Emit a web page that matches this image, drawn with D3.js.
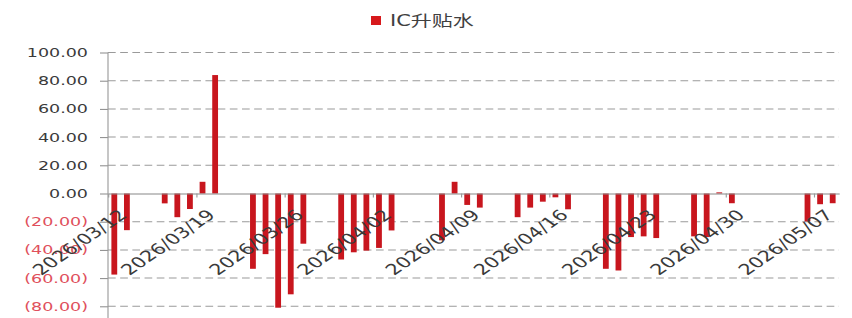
<!DOCTYPE html>
<html><head><meta charset="utf-8">
<script src="https://cdn.jsdelivr.net/npm/d3@7/dist/d3.min.js"></script>
<style>body{margin:0;background:#fff;overflow:hidden}</style>
</head><body><svg id="c"></svg>
<script>
const seriesName = "IC升贴水";
const dates = ["2026-03-12","2026-03-13","2026-03-16","2026-03-17","2026-03-18","2026-03-19","2026-03-20",
  "2026-03-23","2026-03-24","2026-03-25","2026-03-26","2026-03-27","2026-03-30","2026-03-31","2026-04-01",
  "2026-04-02","2026-04-03","2026-04-07","2026-04-08","2026-04-09","2026-04-10","2026-04-13","2026-04-14",
  "2026-04-15","2026-04-16","2026-04-17","2026-04-20","2026-04-21","2026-04-22","2026-04-23","2026-04-24",
  "2026-04-27","2026-04-28","2026-04-29","2026-04-30","2026-05-06","2026-05-07","2026-05-08"];
const values = [-57.5,-26,-7,-16.8,-11,8.3,84,-53.4,-43,-81,-71.5,-35.6,-46.8,-41.7,-40.5,
  -38.6,-26.2,-33.2,8.3,-8.1,-10,-16.8,-10,
  -5.8,-2.7,-11.2,-53.4,-54.6,-30.9,-30.4,-31.6,
  -30.4,-30.9,0.8,-6.9,-19.8,-7.6,-6.9];
const yTicks = [-80,-60,-40,-20,0,20,40,60,80,100];
const xTickDates = ["2026-03-12","2026-03-19","2026-03-26","2026-04-02","2026-04-09","2026-04-16","2026-04-23","2026-04-30","2026-05-07"];
const xDomain = ["2026-03-12","2026-05-09"];

const S = 1.4, W = 852, H = 318;
const svg = d3.select("#c").attr("width", W).attr("height", H)
  .attr("viewBox", `0 0 ${W/S} ${H}`).attr("preserveAspectRatio", "none");
const parse = d3.utcParse("%Y-%m-%d");
const x = d3.scaleUtc().domain(xDomain.map(parse)).range([108/S, 839/S]);
const y = d3.scaleLinear().domain([-80, 100]).range([306.3, 52.5]);
const x0 = x.range()[0], x1 = x.range()[1];
const font = "'DejaVu Sans', 'Noto Sans CJK SC', sans-serif";
const red = "#c8161e";

// grid
svg.append("g").selectAll("line").data(yTicks.filter(d => d !== 0)).join("line")
  .attr("x1", x0).attr("x2", x1).attr("y1", d => y(d)).attr("y2", d => y(d))
  .attr("stroke", "#9a9a9a").attr("stroke-width", 1).attr("stroke-dasharray", "5.5,3.2");

// y axis
const fmt = d => d < 0 ? `(${Math.abs(d).toFixed(2)})` : d.toFixed(2);
const yg = svg.append("g").attr("transform", `translate(${x0},0)`)
  .call(d3.axisLeft(y).tickValues(yTicks).tickSize(8/S).tickPadding(8.6).tickFormat(fmt));
yg.select(".domain").remove();
yg.selectAll(".tick line").attr("stroke", "#888").attr("stroke-width", 1);
yg.selectAll(".tick text").attr("font-family", font).attr("font-size", 12.5)
  .attr("fill", d => d < 0 ? "#e0505c" : "#3a3a3a");
svg.append("line").attr("x1", x0).attr("x2", x0).attr("y1", y(100)).attr("y2", H)
  .attr("stroke", "#999").attr("stroke-width", 0.8);

// bars
const slot = d => x(d3.utcDay.offset(d, 1)) - x(d);
const bw = 5.8 / S;
svg.append("g").selectAll("rect").data(dates.map((d, i) => ({d: parse(d), v: values[i]}))).join("rect")
  .attr("x", o => x(o.d) + slot(o.d)/2 - bw/2)
  .attr("width", bw)
  .attr("y", o => Math.min(y(o.v), y(0)))
  .attr("height", o => Math.abs(y(o.v) - y(0)))
  .attr("fill", red);

// x axis at zero
const xg = svg.append("g").attr("transform", `translate(0,${y(0)})`)
  .call(d3.axisBottom(x).tickValues(xTickDates.map(parse)).tickSize(4).tickSizeOuter(0)
    .tickFormat(d3.utcFormat("%Y/%m/%d")));
xg.select(".domain").attr("stroke", "#888").attr("stroke-width", 1);
xg.selectAll(".tick line").attr("stroke", "#999").attr("stroke-width", 0.8);
xg.selectAll(".tick text").attr("font-family", font).attr("font-size", 15)
  .attr("fill", "#3a3a3a").attr("text-anchor", "end").attr("y", 0).attr("dy", 0)
  .attr("transform", `translate(${19.5/S},22.5) rotate(-44)`);

// legend
svg.append("rect").attr("x", 371/S).attr("y", 16).attr("width", 10/S).attr("height", 9).attr("fill", "#d7191c");
svg.append("text").attr("x", 390/S).attr("y", 26.5).attr("font-family", font).attr("font-size", 15)
  .attr("fill", "#404040").text(seriesName);
</script></body></html>
